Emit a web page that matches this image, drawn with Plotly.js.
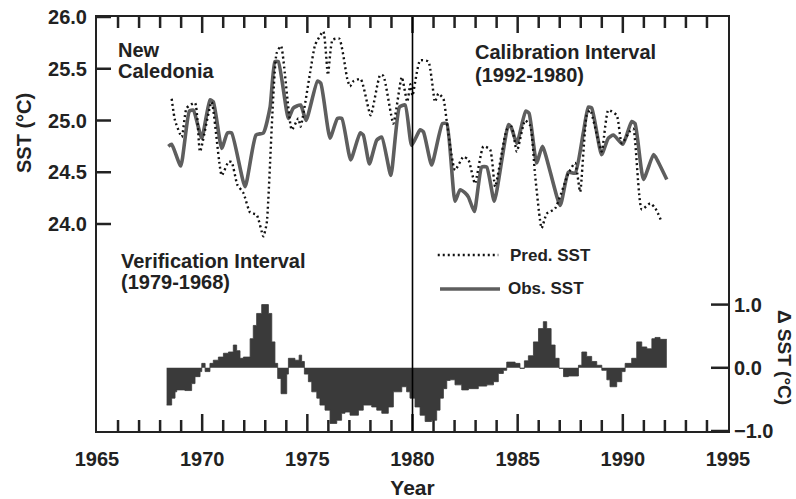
<!DOCTYPE html>
<html>
<head>
<meta charset="utf-8">
<script src="https://cdn.plot.ly/plotly-3.0.1.min.js"></script>
<style>html,body{margin:0;padding:0;background:#fff}#chart{width:796px;height:499px}</style>
</head>
<body>
<div id="chart"></div>
<script>
// Observed SST (solid grey line)
const obsYear = [1968.39,1968.55,1968.98,1969.39,1969.58,1969.98,1970.37,1970.53,1970.93,1971.20,1971.40,1972.04,1972.56,1972.91,1973.23,1973.46,1973.62,1974.10,1974.33,1974.68,1974.94,1975.48,1975.64,1976.08,1976.43,1976.64,1977.06,1977.51,1977.66,1977.95,1978.30,1978.54,1978.97,1979.38,1979.65,1979.96,1980.36,1980.52,1980.91,1981.42,1981.63,1982.02,1982.26,1982.50,1982.66,1982.94,1983.29,1983.53,1983.89,1984.56,1984.70,1984.96,1985.38,1985.54,1985.90,1986.18,1987.02,1987.41,1987.73,1988.12,1988.36,1988.52,1988.99,1989.31,1989.55,1990.00,1990.42,1990.58,1990.98,1991.45,1991.55,1992.09];
const obsSST  = [24.75,24.77,24.56,25.09,25.10,24.83,25.20,25.18,24.73,24.88,24.88,24.36,24.86,24.88,25.13,25.57,25.57,25.02,25.12,25.15,25.00,25.38,25.36,24.83,25.02,25.02,24.62,24.88,24.86,24.58,24.81,24.84,24.47,25.13,25.15,24.76,24.91,24.89,24.57,24.97,24.97,24.22,24.33,24.30,24.26,24.12,24.55,24.55,24.22,24.96,24.93,24.78,25.09,25.07,24.59,24.75,24.18,24.50,24.49,24.88,25.13,25.12,24.67,24.83,24.86,24.77,24.99,24.97,24.43,24.67,24.65,24.43];

// Predicted SST (dotted black line)
const predYear = [1968.55,1968.71,1969.03,1969.26,1969.66,1969.90,1970.45,1970.93,1971.25,1971.40,1971.67,1971.96,1972.28,1972.59,1972.91,1973.07,1973.54,1973.75,1974.26,1974.57,1974.68,1975.13,1975.37,1975.76,1975.98,1976.20,1976.52,1976.90,1977.03,1977.19,1977.54,1978.01,1978.46,1978.62,1979.09,1979.49,1979.75,1979.90,1980.00,1980.36,1980.75,1981.07,1981.23,1981.47,1981.63,1982.02,1982.42,1982.66,1982.97,1983.37,1983.69,1983.93,1984.48,1984.71,1984.96,1985.35,1985.60,1985.83,1986.14,1986.38,1986.78,1987.41,1987.73,1987.97,1988.28,1988.45,1988.99,1989.31,1989.71,1989.95,1990.35,1990.50,1990.90,1991.30,1991.55,1991.85];
const predSST  = [25.21,25.00,24.84,25.12,25.17,24.70,25.18,24.47,24.60,24.60,24.38,24.30,24.11,24.09,23.88,24.01,25.65,25.72,24.91,25.02,24.94,25.46,25.73,25.86,25.44,25.78,25.79,25.40,25.33,25.38,25.40,25.05,25.44,25.43,24.97,25.42,25.18,25.35,25.24,25.58,25.57,25.18,25.26,25.21,24.99,24.52,24.65,24.62,24.39,24.75,24.72,24.36,24.91,24.94,24.70,25.00,24.95,24.47,23.96,24.10,24.15,24.49,24.59,24.31,25.05,25.10,24.70,25.10,25.05,24.78,24.90,24.92,24.14,24.20,24.15,24.02];

// Delta SST (filled steps, right axis)
const dYear = [1968.31,1968.55,1968.71,1968.79,1969.18,1969.50,1969.66,1969.90,1969.98,1970.14,1970.37,1970.53,1970.77,1971.01,1971.25,1971.48,1971.64,1971.80,1971.96,1972.28,1972.43,1972.59,1972.83,1973.15,1973.31,1973.46,1973.59,1973.75,1974.02,1974.10,1974.41,1974.61,1974.73,1974.86,1975.05,1975.21,1975.45,1975.60,1975.84,1976.08,1976.40,1976.63,1976.79,1977.03,1977.43,1977.66,1978.06,1978.30,1978.54,1978.85,1979.09,1979.49,1979.72,1979.88,1980.12,1980.36,1980.60,1980.91,1981.15,1981.31,1981.47,1981.63,1981.79,1982.02,1982.34,1982.66,1983.13,1983.53,1983.85,1984.08,1984.32,1984.48,1984.88,1985.11,1985.32,1985.51,1985.75,1985.99,1986.22,1986.38,1986.59,1986.78,1986.97,1987.18,1987.41,1987.89,1988.05,1988.28,1988.52,1988.76,1989.00,1989.24,1989.39,1989.71,1989.95,1990.11,1990.42,1990.66,1990.90,1991.14,1991.38,1991.53,1991.77,1992.09];
const dSST  = [-0.59,-0.48,-0.38,-0.35,-0.36,-0.25,-0.14,-0.06,0.07,-0.06,0.07,0.12,0.17,0.23,0.25,0.36,0.27,0.15,0.17,0.46,0.67,0.86,1.0,0.86,0.41,0.07,-0.17,-0.41,-0.1,0.15,0.12,0.2,0.1,-0.1,-0.22,-0.38,-0.48,-0.59,-0.67,-0.88,-0.83,-0.72,-0.70,-0.75,-0.67,-0.59,-0.62,-0.67,-0.72,-0.62,-0.38,-0.30,-0.38,-0.48,-0.62,-0.75,-0.85,-0.83,-0.67,-0.48,-0.33,-0.2,-0.19,-0.27,-0.35,-0.33,-0.29,-0.27,-0.22,-0.09,-0.04,0.09,0.07,-0.01,0.11,0.19,0.41,0.62,0.73,0.62,0.36,0.15,-0.01,-0.14,-0.13,0.04,0.25,0.18,0.1,0.04,-0.04,-0.19,-0.3,-0.22,-0.06,0.07,0.15,0.41,0.33,0.30,0.46,0.48,0.45,0.45];

const xRange = [1965, 1995];
const sstRange = [22, 26];
const dRange = [-1, 5.55];
const xTicks = [1965,1970,1975,1980,1985,1990,1995];
const sstTicks = [24.0,24.5,25.0,25.5,26.0];
const dTicks = [-1.0,0.0,1.0];
const splitYear = 1980;

const FONT = 'Liberation Sans, Arial, Helvetica, sans-serif';
const AX = '#222';
const tf = {family: FONT, size: 20, weight: 'bold', color: '#222'};
const bold = (size) => ({family: FONT, size: size, weight: 'bold', color: '#222'});

const W = 796, H = 499, M = {l: 97, r: 68, t: 17, b: 68};
const PW = W - M.l - M.r, PH = H - M.t - M.b;
const xpp = (xRange[1] - xRange[0]) / PW;     // axis units per pixel
const ypp = (sstRange[1] - sstRange[0]) / PH;

// inside tick marks for all four sides, built from the tick arrays
const tkx = [], tky = [], tk2x = [], tk2y = [];
for (let yr = xRange[0] + 1; yr < xRange[1]; yr++) {
  const major = xTicks.includes(yr);
  tkx.push(yr, yr, null, yr, yr, null);
  tky.push(sstRange[0], sstRange[0] + (major ? 17 : 11) * ypp, null,
           sstRange[1], sstRange[1] - (major ? 16 : 11) * ypp, null);
}
sstTicks.forEach(v => { tkx.push(xRange[0], xRange[0] + 14 * xpp, null); tky.push(v, v, null); });
dTicks.forEach(v => { tk2x.push(xRange[1] - 17 * xpp, xRange[1], null); tk2y.push(v, v, null); });

const traces = [
  {x: dYear, y: dSST, yaxis: 'y2', type: 'scatter', mode: 'lines',
   line: {shape: 'hv', color: '#3a3a3a', width: 0.8}, fill: 'tozeroy', fillcolor: '#3a3a3a',
   hoverinfo: 'skip', showlegend: false},
  {x: obsYear, y: obsSST, type: 'scatter', mode: 'lines', name: 'Obs. SST',
   line: {color: '#5e5e5e', width: 3.6, shape: 'spline', smoothing: 0.5}, showlegend: false},
  {x: predYear, y: predSST, type: 'scatter', mode: 'lines', name: 'Pred. SST',
   line: {color: '#111', width: 2.4, dash: '2px,3px', shape: 'spline', smoothing: 0.5}, showlegend: false},
  {x: tkx, y: tky, type: 'scatter', mode: 'lines', line: {color: AX, width: 2.5},
   connectgaps: false, hoverinfo: 'skip', showlegend: false},
  {x: tk2x, y: tk2y, yaxis: 'y2', type: 'scatter', mode: 'lines', line: {color: AX, width: 2.5},
   connectgaps: false, hoverinfo: 'skip', showlegend: false}
];

const ann = (text, x, y, opts) => Object.assign({text, x, y, xref: 'paper', yref: 'paper',
  showarrow: false, xanchor: 'left', yanchor: 'middle', font: bold(20)}, opts || {});

const layout = {
  width: W, height: H,
  margin: M,
  paper_bgcolor: '#fff', plot_bgcolor: '#fff',
  showlegend: false,
  xaxis: {range: xRange, tickmode: 'array', tickvals: xTicks, ticks: '',
    showline: true, linewidth: 2, linecolor: AX, mirror: true,
    showgrid: false, zeroline: false, tickfont: tf, ticklabelstandoff: 9,
    title: {text: 'Year', font: bold(21), standoff: 12}},
  yaxis: {range: sstRange, tickmode: 'array', tickvals: sstTicks, tickformat: '.1f', ticks: '',
    showline: true, linewidth: 2, linecolor: AX, mirror: false,
    showgrid: false, zeroline: false, tickfont: tf, ticklabelstandoff: 4},
  yaxis2: {range: dRange, overlaying: 'y', side: 'right', tickmode: 'array', tickvals: dTicks, tickformat: '.1f',
    ticks: '', showline: true, linewidth: 2,
    linecolor: AX, showgrid: false, zeroline: false, tickfont: tf},
  shapes: [
    {type: 'line', xref: 'x', yref: 'paper', x0: splitYear, x1: splitYear, y0: 0, y1: 1,
     line: {color: '#000', width: 1.6}},
    {type: 'line', xref: 'paper', yref: 'paper', x0: 0.540, x1: 0.636, y0: 0.425, y1: 0.425,
     line: {color: '#111', width: 2.4, dash: '2px,3px'}},
    {type: 'line', xref: 'paper', yref: 'paper', x0: 0.5436, x1: 0.6387, y0: 0.343, y1: 0.343,
     line: {color: '#5e5e5e', width: 3.6}}
  ],
  annotations: [
    ann('New', 0.030, 0.920),
    ann('Caledonia', 0.030, 0.870),
    ann('Calibration Interval', 0.596, 0.9155),
    ann('(1992-1980)', 0.596, 0.8610),
    ann('Verification Interval', 0.035, 0.4105),
    ann('(1979-1968)', 0.035, 0.3590),
    ann('Pred. SST', 0.651, 0.425, {font: bold(17)}),
    ann('Obs. SST', 0.648, 0.343, {font: bold(17)}),
    ann('SST (°C)', -0.1157, 0.7198, {xanchor: 'center', textangle: -90}),
    ann('Δ SST (°C)', 1.0905, 0.1787, {xanchor: 'center', textangle: 90, font: bold(19)})
  ]
};

Plotly.newPlot('chart', traces, layout, {displayModeBar: false});
</script>
</body>
</html>
